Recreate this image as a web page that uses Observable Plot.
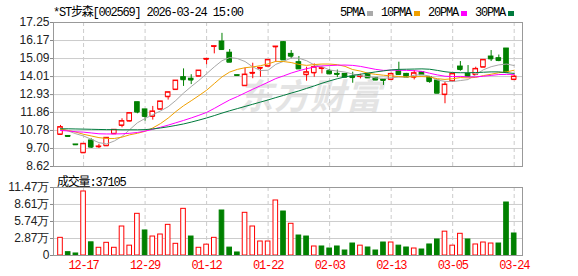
<!DOCTYPE html>
<html><head><meta charset="utf-8">
<script src="https://cdn.jsdelivr.net/npm/d3@7"></script>
<script src="https://cdn.jsdelivr.net/npm/@observablehq/plot@0.6"></script>
<style>
html,body{margin:0;padding:0;background:#fff;}
body{width:578px;height:276px;overflow:hidden;position:relative;}
.t{position:absolute;font-family:"Liberation Mono","Noto Sans CJK SC",monospace;font-size:12px;letter-spacing:-1.2px;white-space:nowrap;color:#000;line-height:12px;}
.sq{position:absolute;width:6px;height:5px;}
.wm{position:absolute;font-family:"Noto Sans CJK SC";font-weight:bold;font-style:italic;font-size:35px;color:#e4e4e4;left:238px;top:68px;letter-spacing:1px;white-space:nowrap;}
#price{position:absolute;left:0;top:0;}
#vol{position:absolute;left:0;top:176px;}
</style></head>
<body>
<div class="wm">东方财富</div>
<div id="price"></div>
<div id="vol"></div>
<div class="t" style="left:53px;top:7px;">*ST步森[002569] 2026-03-24 15:00</div>
<div class="t" style="left:340px;top:7px;">5PMA</div><div class="sq" style="left:367px;top:11px;background:#aaaaaa"></div>
<div class="t" style="left:381px;top:7px;">10PMA</div><div class="sq" style="left:414px;top:11px;background:#f0a000"></div>
<div class="t" style="left:428px;top:7px;">20PMA</div><div class="sq" style="left:461px;top:11px;background:#ff00ff"></div>
<div class="t" style="left:475px;top:7px;">30PMA</div><div class="sq" style="left:508px;top:11px;background:#007a3d"></div>
<div class="t" style="left:57px;top:177px;">成交量:37105</div>
<script>
// ---- data ----
const tickIndex = [3, 11, 19, 27, 35, 43, 51, 59];
const tickLabels = ["12-17", "12-29", "01-12", "01-22", "02-03", "02-13", "03-05", "03-24"];
const priceTicks = [8.62, 9.70, 10.78, 11.86, 12.93, 14.01, 15.09, 16.17, 17.25];
const volTicks = [0, 28700, 57400, 86100, 114700];
const volTickLabels = ["0", "2.87万", "5.74万", "8.61万", "11.47万"];
const prevClose0 = 10.85;
const open  = [10.54,10.45,9.94,9.44,10.18,9.80,9.86,10.58,11.08,11.34,12.47,12.04,11.62,12.05,12.80,13.23,13.97,13.88,14.03,15.05,15.81,16.11,15.44,14.09,13.46,14.21,14.51,14.63,15.79,16.07,15.37,14.87,14.12,14.23,14.49,14.33,14.17,14.17,14.00,14.01,14.17,13.93,13.82,13.83,14.33,14.17,13.97,14.27,13.97,13.77,12.93,13.73,14.61,14.17,14.13,14.57,15.21,15.11,15.69,13.83];
const close = [10.98,10.42,9.92,9.98,9.78,9.82,10.34,10.82,11.34,11.82,11.88,11.62,11.92,12.52,13.07,13.77,13.82,13.80,14.37,15.07,15.83,15.63,14.87,14.07,14.13,14.23,14.53,15.01,15.81,15.01,15.23,14.47,14.27,14.57,14.51,14.17,14.14,13.97,13.95,14.03,13.93,13.80,13.78,14.17,14.13,13.97,14.21,14.12,13.71,13.01,13.53,14.17,14.43,14.01,14.47,15.01,15.07,14.97,14.27,14.01];
const high  = [11.08,10.45,9.94,9.98,10.28,9.95,10.34,10.82,11.48,11.82,12.47,12.04,12.22,12.52,13.07,13.77,14.47,14.12,14.37,15.07,15.83,16.60,15.63,14.09,14.51,14.81,14.53,15.01,15.81,16.10,15.57,15.21,14.57,14.77,14.51,14.45,14.40,14.17,14.27,14.15,14.17,13.93,13.82,14.21,14.87,14.20,14.37,14.27,13.97,13.77,13.67,14.17,14.91,14.67,14.57,15.01,15.57,15.30,15.69,14.09];
const low   = [10.48,10.42,9.92,9.44,9.70,9.70,9.86,10.58,10.94,11.30,11.78,11.34,11.40,12.05,12.60,13.23,13.42,13.53,14.03,14.72,15.37,15.60,14.87,14.07,13.46,13.88,13.97,14.63,14.87,15.01,15.07,14.47,13.73,13.97,14.17,14.17,13.95,13.97,13.61,13.87,13.93,13.77,13.48,13.81,14.13,13.95,13.81,14.12,13.61,13.01,12.38,13.73,14.33,14.01,14.13,14.57,14.91,14.90,14.27,13.77];
const volWan = [2.98,0.56,0.34,10.8,2.22,1.30,2.14,1.30,4.89,1.66,7.03,4.22,3.20,3.54,5.17,1.97,7.87,3.20,1.30,1.83,2.98,7.59,1.33,0.51,7.20,4.89,2.36,2.36,9.28,7.42,5.35,3.37,3.20,1.52,1.52,1.18,1.52,0.84,2.02,1.66,1.35,0.84,2.19,2.19,1.66,1.35,1.18,1.01,1.86,2.70,4.02,1.66,3.66,2.70,1.86,2.19,2.02,2.02,8.94,3.71];
const ma5  = [10.88,10.75,10.58,10.45,10.25,10.05,9.97,10.15,10.42,10.83,11.24,11.50,11.72,11.95,12.20,12.58,13.02,13.41,13.78,14.18,14.59,14.96,15.15,15.09,14.91,14.59,14.37,14.39,14.74,14.92,15.12,15.11,14.96,14.71,14.61,14.40,14.34,14.28,14.16,14.06,14.01,13.93,13.90,13.94,13.98,13.97,14.09,14.12,14.04,13.80,13.72,13.71,13.77,13.83,14.12,14.42,14.60,14.71,14.76,14.67];
const ma10 = [10.85,10.78,10.68,10.55,10.45,10.35,10.30,10.30,10.38,10.52,10.61,10.73,10.93,11.19,11.52,11.91,12.26,12.56,12.87,13.19,13.59,13.99,14.28,14.44,14.54,14.59,14.66,14.77,14.92,14.91,14.85,14.74,14.68,14.73,14.76,14.76,14.72,14.62,14.43,14.34,14.21,14.14,14.09,14.05,14.01,13.99,14.00,14.01,13.99,13.88,13.84,13.88,13.95,13.93,13.96,14.07,14.15,14.24,14.29,14.39];
const ma20 = [10.78,10.75,10.70,10.68,10.63,10.58,10.57,10.57,10.58,10.61,10.66,10.74,10.85,10.97,11.10,11.24,11.38,11.53,11.69,11.86,12.10,12.36,12.61,12.81,13.03,13.25,13.46,13.67,13.89,14.05,14.22,14.36,14.48,14.58,14.65,14.67,14.69,14.70,14.68,14.62,14.53,14.44,14.38,14.39,14.39,14.38,14.36,14.32,14.21,14.11,14.03,14.01,14.02,13.99,13.99,14.03,14.08,14.13,14.14,14.14];
const ma30 = [10.88,10.88,10.87,10.86,10.85,10.84,10.83,10.83,10.82,10.82,10.82,10.83,10.87,10.93,11.00,11.08,11.17,11.28,11.40,11.53,11.67,11.82,11.96,12.09,12.22,12.35,12.48,12.61,12.75,12.88,13.02,13.15,13.30,13.45,13.61,13.75,13.88,13.99,14.07,14.15,14.22,14.29,14.35,14.41,14.44,14.45,14.46,14.47,14.45,14.38,14.30,14.25,14.24,14.24,14.25,14.27,14.29,14.29,14.24,14.20];

// ---- styles ----
const RED = "#ff0000", GREEN = "#008000";
const maSeries = [
  {name: "5PMA", values: ma5, color: "#a8a8a8"},
  {name: "10PMA", values: ma10, color: "#f0a000"},
  {name: "20PMA", values: ma20, color: "#ff00ff"},
  {name: "30PMA", values: ma30, color: "#007a3d"}
];
const rows = open.map((o, i) => ({
  i, open: o, close: close[i], high: high[i], low: low[i], vol: volWan[i] * 10000,
  up: close[i] >= o,
  volUp: close[i] >= (i ? close[i - 1] : prevClose0)
}));
const maRows = maSeries.flatMap(s => s.values.map((v, i) => ({i, v, name: s.name, color: s.color})));
const xDomain = [-0.91, 60.08];
const half = 0.3;
const gridColor = "#cccccc";
const baseStyle = {background: "transparent", fontFamily: "Liberation Sans, Arial, sans-serif", fontSize: "12px", color: "#222"};

const price = Plot.plot({
  width: 578, height: 176,
  marginTop: 22, marginBottom: 10, marginLeft: 53, marginRight: 56,
  style: baseStyle,
  x: {domain: xDomain, axis: null},
  y: {domain: [8.62, 17.25], axis: null, label: null},
  color: {type: "identity"},
  marks: [
    Plot.gridY(priceTicks, {stroke: gridColor, strokeOpacity: 1}),
    Plot.ruleX(tickIndex, {stroke: gridColor, strokeOpacity: 1, strokeDasharray: "4,3"}),
    Plot.axisY(priceTicks, {tickSize: 3, tickPadding: 1, label: null, tickFormat: d => d.toFixed(2), stroke: "#888", fontSize: 12}),
    Plot.ruleX(rows, {x: "i", y1: "low", y2: "high", stroke: d => d.up ? RED : GREEN}),
    Plot.rect(rows, {x1: d => d.i - half, x2: d => d.i + half, y1: "open", y2: "close",
      fill: d => d.up ? "#ffffff" : GREEN, stroke: d => d.up ? RED : GREEN}),
    Plot.ruleY(rows, {y: "open", x1: d => d.i - half, x2: d => d.i + half, stroke: d => d.up ? RED : GREEN}),
    Plot.ruleY(rows, {y: "close", x1: d => d.i - half, x2: d => d.i + half, stroke: d => d.up ? RED : GREEN}),
    Plot.line(maRows, {x: "i", y: "v", z: "name", stroke: "color", strokeWidth: 1}),
    Plot.frame({stroke: "#999"})
  ]
});
document.getElementById("price").appendChild(price);

const vol = Plot.plot({
  width: 578, height: 100,
  marginTop: 11, marginBottom: 21, marginLeft: 53, marginRight: 56,
  style: baseStyle,
  x: {domain: xDomain, axis: null, label: null},
  y: {domain: [0, 114700], axis: null, label: null},
  color: {type: "identity"},
  marks: [
    Plot.gridY(volTicks.slice(1, 4), {stroke: gridColor, strokeOpacity: 1}),
    Plot.ruleX(tickIndex, {stroke: gridColor, strokeOpacity: 1, strokeDasharray: "4,3"}),
    Plot.axisY(volTicks, {tickSize: 3, tickPadding: 1, label: null, tickFormat: d => volTickLabels[volTicks.indexOf(d)], stroke: "#888", fontSize: 12}),
    Plot.axisX(tickIndex, {tickSize: 0, tickPadding: 5, label: null, tickFormat: d => tickLabels[tickIndex.indexOf(d)], fill: RED, fontSize: 12, fontFamily: "Liberation Mono, monospace"}),
    Plot.rect(rows, {x1: d => d.i - half, x2: d => d.i + half, y1: 0, y2: "vol",
      fill: d => d.volUp ? "#ffffff" : GREEN, stroke: d => d.volUp ? RED : GREEN}),
    Plot.frame({stroke: "#999"})
  ]
});
document.getElementById("vol").appendChild(vol);
d3.select(vol).selectAll('g[aria-label="x-axis tick label"] text').style("letter-spacing", "-1.2px");
</script>
</body></html>
